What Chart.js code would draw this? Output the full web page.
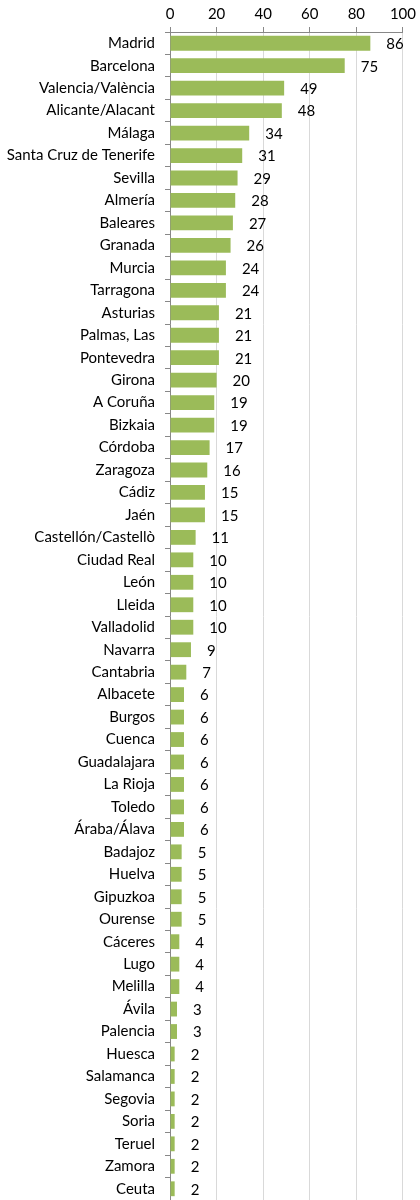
<!DOCTYPE html>
<html>
<head>
<meta charset="utf-8">
<script src="https://cdn.jsdelivr.net/npm/chart.js@4"></script>
<style>
  body { margin: 0; background: #fff; }
  canvas { display: block; }
</style>
</head>
<body>
<canvas id="chart" width="420" height="1200"></canvas>
<script>
const provinces = ['Madrid', 'Barcelona', 'Valencia/València', 'Alicante/Alacant', 'Málaga',
    'Santa Cruz de Tenerife', 'Sevilla', 'Almería', 'Baleares', 'Granada', 'Murcia', 'Tarragona',
    'Asturias', 'Palmas, Las', 'Pontevedra', 'Girona', 'A Coruña', 'Bizkaia', 'Córdoba', 'Zaragoza',
    'Cádiz', 'Jaén', 'Castellón/Castellò', 'Ciudad Real', 'León', 'Lleida', 'Valladolid', 'Navarra',
    'Cantabria', 'Albacete', 'Burgos', 'Cuenca', 'Guadalajara', 'La Rioja', 'Toledo', 'Áraba/Álava',
    'Badajoz', 'Huelva', 'Gipuzkoa', 'Ourense', 'Cáceres', 'Lugo', 'Melilla', 'Ávila', 'Palencia',
    'Huesca', 'Salamanca', 'Segovia', 'Soria', 'Teruel', 'Zamora', 'Ceuta'];
const counts = [86, 75, 49, 48, 34, 31, 29, 28, 27, 26, 24, 24, 21, 21, 21, 20, 19, 19, 17, 16,
    15, 15, 11, 10, 10, 10, 10, 9, 7, 6, 6, 6, 6, 6, 6, 6, 5, 5, 5, 5, 4, 4, 4, 3, 3,
    2, 2, 2, 2, 2, 2, 2];
const xTicks = [0, 20, 40, 60, 80, 100];

const FONT = 'Lato, "Open Sans", sans-serif';

// Draw the value next to the end of each bar
const valueLabels = {
    id: 'valueLabels',
    afterDatasetsDraw(chart) {
        const ctx = chart.ctx;
        const meta = chart.getDatasetMeta(0);
        ctx.save();
        ctx.font = '15px ' + FONT;
        ctx.fillStyle = '#000';
        ctx.textBaseline = 'middle';
        ctx.textAlign = 'left';
        meta.data.forEach((bar, i) => {
            ctx.fillText(String(counts[i]), bar.x + 16, bar.y + 1);
        });
        ctx.restore();
    }
};

const ctx = document.getElementById('chart').getContext('2d');
new Chart(ctx, {
    type: 'bar',
    data: {
        labels: provinces,
        datasets: [{
            data: counts,
            backgroundColor: '#9BBB59',
            borderWidth: 0,
            barPercentage: 0.66,
            categoryPercentage: 1
        }]
    },
    plugins: [valueLabels],
    options: {
        indexAxis: 'y',
        responsive: false,
        animation: false,
        layout: { padding: { top: 0, right: 16, bottom: 0, left: 0 } },
        plugins: {
            legend: { display: false },
            tooltip: { enabled: false }
        },
        scales: {
            x: {
                position: 'top',
                min: 0,
                max: 100,
                afterBuildTicks: (axis) => { axis.ticks = xTicks.map(v => ({ value: v })); },
                afterFit: (axis) => { axis.height = 32; },
                ticks: {
                    color: '#000',
                    font: { family: FONT, size: 15 },
                    padding: 4,
                    maxRotation: 0
                },
                grid: {
                    color: '#d9d9d9',
                    tickColor: '#888',
                    tickLength: 5
                },
                border: { color: '#888' }
            },
            y: {
                afterFit: (axis) => {
                    axis.width = 170;
                    axis.paddingTop = 0;
                    axis.paddingBottom = 0;
                },
                ticks: {
                    color: '#000',
                    font: { family: FONT, size: 15 },
                    padding: 10,
                    autoSkip: false
                },
                grid: {
                    drawOnChartArea: false,
                    offset: true,
                    color: '#888',
                    tickLength: 5
                },
                border: { color: '#888' }
            }
        }
    }
});
</script>
</body>
</html>
